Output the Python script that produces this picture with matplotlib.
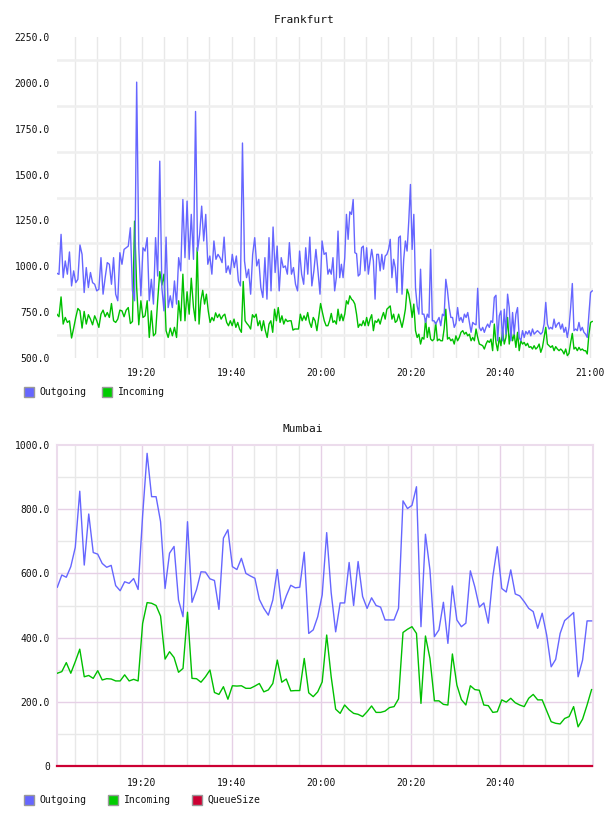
import numpy as np
import matplotlib
matplotlib.use("Agg")
import matplotlib.pyplot as plt
from matplotlib.patches import Rectangle
from matplotlib.ticker import FixedLocator, FuncFormatter

# ---------------- data ----------------
# time in minutes after 19:00
x_range = (1.03, 120.67)

# Frankfurt samples, read in four consecutive time segments (start, end minutes)
fra_segments = [(1.0, 31.0), (31.5, 61.1), (61.5, 91.2), (91.6, 120.5)]

fra_out_1 = [962, 956, 1174, 938, 1029, 957, 1078, 893, 975, 911, 929, 1116, 1065, 857, 993, 884, 966, 911, 902, 866,
             875, 1047, 848, 938, 1020, 1011, 902, 1047, 848, 812, 1074, 1011, 1092, 1101, 1110, 1210, 866, 812, 2004, 1101,
             839, 1101, 1083, 1156, 812, 929, 794, 1156, 947, 1573, 884, 757, 1159, 775, 839, 775, 920, 794, 1047, 975,
             1364, 1047, 1355, 1038, 1283]
fra_out_2 = [1038, 1844, 1083, 1174, 1328, 1138, 1283, 1011, 1056, 957, 1138, 1038, 1065, 1047, 1020, 1159, 966, 1002, 957, 1065,
             993, 1056, 920, 893, 1672, 1029, 938, 984, 848, 1065, 1156, 1002, 1038, 884, 830, 1047, 821, 1156, 866, 1214,
             966, 1110, 866, 1047, 993, 1002, 957, 1129, 957, 993, 902, 866, 1083, 957, 902, 1101, 957, 1159, 893, 975,
             1092, 975, 848, 1138, 1065, 1074]
fra_out_3 = [957, 984, 957, 1047, 866, 938, 1192, 938, 1011, 938, 1047, 1283, 1147, 1297, 1283, 1364, 1074, 1069, 947, 957,
             1101, 1110, 975, 1101, 957, 1029, 1092, 1029, 821, 1065, 1065, 975, 1065, 984, 1056, 1065, 1092, 1147, 938, 1038,
             993, 857, 1156, 1165, 848, 1038, 1138, 1083, 1246, 1446, 1092, 1283, 884, 784, 739, 984, 739, 739, 694, 739,
             721, 1092, 703, 703, 685, 703, 721, 676, 739, 730, 929, 866, 775, 721, 721, 667, 688, 775, 703, 721]
fra_out_4 = [694, 739, 721, 748, 694, 640, 694, 685, 681, 880, 667, 649, 667, 640, 667, 685, 667, 703, 694, 830,
             842, 594, 730, 757, 594, 766, 630, 848, 775, 594, 748, 630, 739, 775, 612, 594, 649, 612, 645, 630,
             649, 621, 658, 630, 640, 649, 640, 630, 640, 685, 803, 685, 658, 667, 658, 712, 667, 685, 694, 658,
             685, 640, 667, 612, 667, 775, 906, 649, 658, 649, 694, 649, 667, 640, 630, 612, 739, 857, 866]

fra_in_1 = [739, 725, 833, 685, 721, 694, 703, 609, 663, 721, 770, 757, 663, 754, 685, 736, 712, 681, 730, 703,
            667, 739, 761, 725, 748, 721, 797, 703, 694, 712, 761, 757, 725, 761, 775, 688, 699, 1246, 884, 681,
            812, 721, 730, 812, 612, 757, 621, 634, 812, 971, 898, 957, 649, 612, 663, 621, 667, 612, 812, 703,
            957, 703, 861, 739, 935]
fra_in_2 = [775, 703, 1101, 685, 812, 869, 794, 848, 757, 694, 721, 703, 746, 721, 739, 712, 730, 739, 694, 676,
            703, 676, 712, 667, 694, 658, 640, 917, 703, 688, 676, 658, 736, 721, 739, 676, 703, 649, 703, 649,
            612, 685, 703, 640, 766, 703, 775, 694, 730, 685, 712, 699, 703, 703, 652, 658, 658, 658, 739, 703,
            730, 706, 748, 694, 667, 721, 703, 649, 721, 797, 748, 703, 676]
fra_in_3 = [676, 703, 743, 694, 703, 685, 766, 703, 739, 703, 739, 812, 794, 839, 821, 812, 794, 739, 667, 685,
            676, 703, 676, 721, 676, 712, 736, 649, 703, 694, 712, 685, 721, 748, 712, 766, 775, 784, 712, 739,
            694, 703, 739, 703, 667, 712, 766, 875, 848, 794, 721, 794, 649, 612, 630, 576, 612, 603, 712, 612,
            667, 603, 594, 603, 694, 594, 603, 594, 594, 658, 766, 603, 612, 594, 603, 576, 621, 594, 612, 640]
fra_in_4 = [649, 630, 640, 621, 630, 594, 612, 594, 658, 612, 576, 572, 567, 549, 576, 594, 585, 603, 540, 685,
            585, 540, 612, 567, 649, 576, 612, 721, 576, 649, 594, 630, 558, 640, 540, 594, 576, 585, 567, 580,
            558, 562, 549, 567, 549, 558, 576, 531, 558, 612, 667, 576, 567, 558, 567, 540, 562, 549, 540, 549,
            540, 522, 549, 513, 525, 585, 634, 549, 558, 540, 558, 543, 549, 540, 540, 522, 630, 694, 699]

# Mumbai, one sample per minute
mum_span = (1.1, 120.35)
mum_out = [557, 595, 588, 621, 681, 856, 626, 785, 665, 660, 631, 619, 625, 562, 546, 574, 569, 584, 550, 780,
           974, 839, 839, 761, 553, 663, 684, 517, 465, 761, 510, 549, 605, 604, 583, 578, 488, 710, 736, 621,
           612, 647, 600, 592, 585, 519, 491, 470, 517, 612, 490, 530, 563, 555, 557,
           666, 413, 424, 465, 533, 727, 540, 418, 508, 508, 634, 500, 637, 528, 491, 524, 500, 495, 455, 455,
           455, 491, 826, 802, 812, 870, 434, 722, 611, 403, 424, 510, 382, 561, 455, 434, 445, 608, 558, 495,
           508, 445, 590, 683, 553, 542, 611, 536, 530, 512, 491, 481, 429, 476, 408, 309, 332, 413, 453, 465,
           478, 278, 330, 452, 452]
mum_in = [289, 294, 322, 289, 325, 364, 278, 282, 273, 297, 268, 272, 271, 265, 265, 284, 265, 270, 265, 444,
          509, 507, 500, 467, 333, 356, 338, 292, 304, 479, 273, 272, 261, 278, 299, 229, 223, 247, 208, 250,
          249, 250, 242, 242, 249, 257, 231, 237, 257, 330, 261, 271, 234, 235, 235,
          335, 228, 216, 231, 262, 408, 278, 177, 164, 190, 175, 164, 161, 154, 169, 187, 167, 167, 171, 182,
          185, 209, 416, 426, 434, 413, 195, 405, 335, 203, 203, 192, 190, 349, 252, 207, 190, 250, 238, 236,
          190, 188, 167, 169, 206, 199, 211, 197, 190, 185, 211, 223, 206, 206, 172, 138, 133, 131, 148, 154,
          185, 122, 146, 190, 238]
mum_queue = [0] * len(mum_out)

fra_title = "Frankfurt"
mum_title = "Mumbai"
fra_yticks = [500, 750, 1000, 1250, 1500, 1750, 2000, 2250]
mum_yticks = [0, 200, 400, 600, 800, 1000]
fra_xticks = [20, 40, 60, 80, 100, 120]
mum_xticks = [20, 40, 60, 80, 100]
series_names = ["Outgoing", "Incoming", "QueueSize"]

# ---------------- style ----------------
C_OUT = "#6666ff"
C_IN = "#00c000"
C_Q = "#cc0033"
FONT = "DejaVu Sans Mono"
plt.rcParams["font.family"] = [FONT, "DejaVu Sans"]

W, H = 608, 816
fig = plt.figure(figsize=(W / 100, H / 100), dpi=100)


def fx(px):
    return px / W


def fy(py):
    return 1 - py / H


def seg_times(segs, parts):
    return np.concatenate([np.linspace(a, b, len(p)) for (a, b), p in zip(segs, parts)])


def tfmt(v, _):
    m = int(round(v))
    return f"{19 + m // 60}:{m % 60:02d}"


ax1 = fig.add_axes([fx(57), fy(358), (593 - 57) / W, (358 - 37) / H])
ax2 = fig.add_axes([fx(57), fy(766), (593 - 57) / W, (766 - 445) / H])

five_min = list(range(5, 121, 5))

# ---- Frankfurt ----
ax1.set_xlim(*x_range)
ax1.set_ylim(500, 2250)
for t in five_min:
    ax1.axvline(t, color="#e8e8e8", lw=1.0, zorder=0)
for i in range(len(fra_yticks) - 1):
    ax1.axhline((fra_yticks[i] + fra_yticks[i + 1]) / 2, color="#efefef", lw=1.8, zorder=0)
t_out = seg_times(fra_segments, [fra_out_1, fra_out_2, fra_out_3, fra_out_4])
t_in = seg_times(fra_segments, [fra_in_1, fra_in_2, fra_in_3, fra_in_4])
ax1.plot(t_out, fra_out_1 + fra_out_2 + fra_out_3 + fra_out_4, color=C_OUT, lw=1.0, zorder=3)
ax1.plot(t_in, fra_in_1 + fra_in_2 + fra_in_3 + fra_in_4, color=C_IN, lw=1.0, zorder=2)
ax1.yaxis.set_major_locator(FixedLocator(fra_yticks))
ax1.yaxis.set_major_formatter(FuncFormatter(lambda v, _: f"{v:.1f}"))
ax1.xaxis.set_major_locator(FixedLocator(fra_xticks))
ax1.xaxis.set_major_formatter(FuncFormatter(tfmt))
for s in ax1.spines.values():
    s.set_visible(False)

# ---- Mumbai ----
ax2.set_xlim(*x_range)
ax2.set_ylim(0, 1000)
PINK = "#e6d0e6"
GREY = "#e8e8e8"
for t in five_min[:-1]:
    ax2.axvline(t, color=PINK if t % 20 == 0 else GREY, lw=1.0, zorder=0)
for v in range(100, 1000, 100):
    ax2.axhline(v, color=PINK if v % 200 == 0 else GREY, lw=1.0, zorder=0)
t_m = np.linspace(mum_span[0], mum_span[1], len(mum_out))
ax2.plot(t_m, mum_out, color=C_OUT, lw=1.0, zorder=3)
ax2.plot(t_m, mum_in, color=C_IN, lw=1.0, zorder=3)
ax2.plot(np.linspace(x_range[0], mum_span[1], len(mum_queue)), mum_queue, color=C_Q, lw=1.6, zorder=4, clip_on=False)
ax2.yaxis.set_major_locator(FixedLocator(mum_yticks))
ax2.yaxis.set_major_formatter(FuncFormatter(lambda v, _: "0" if v == 0 else f"{v:.1f}"))
ax2.xaxis.set_major_locator(FixedLocator(mum_xticks))
ax2.xaxis.set_major_formatter(FuncFormatter(tfmt))
for k in ("left", "top", "right"):
    ax2.spines[k].set_color("#ecdcec")
    ax2.spines[k].set_linewidth(1.5)
ax2.spines["bottom"].set_visible(False)

for ax, xpad in ((ax1, 7.5), (ax2, 8.5)):
    ax.tick_params(axis="both", length=0, labelsize=7, colors="#111111")
    ax.tick_params(axis="y", pad=5)
    ax.tick_params(axis="x", pad=xpad)
    ax.set_facecolor("white")

# ---- titles ----
fig.text(fx(304), fy(20), fra_title, ha="center", va="center", fontsize=8, color="#111111")
fig.text(fx(303), fy(429), mum_title, ha="center", va="center", fontsize=8, color="#111111")


# ---- legends ----
def legend_item(xsq, xtxt, ycen, color, label):
    fig.add_artist(Rectangle((fx(xsq), fy(ycen + 5)), 10 / W, 10 / H, transform=fig.transFigure,
                             facecolor=color, edgecolor="#999999", lw=1.0))
    fig.text(fx(xtxt), fy(ycen), label, ha="left", va="center", fontsize=7, color="#111111")


legend_item(24, 39, 392, C_OUT, series_names[0])
legend_item(102, 118, 392, "#00cc00", series_names[1])
legend_item(24, 39, 800, C_OUT, series_names[0])
legend_item(108, 124, 800, "#00cc00", series_names[1])
legend_item(192, 207, 800, C_Q, series_names[2])

fig.savefig("out.png", dpi=100, facecolor="white")
